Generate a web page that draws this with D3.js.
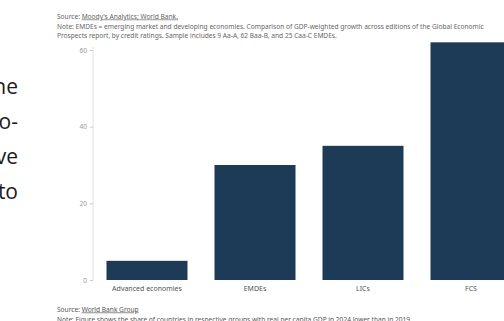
<!DOCTYPE html>
<html>
<head>
<meta charset="utf-8">
<script src="https://cdn.jsdelivr.net/npm/d3@7"></script>
<style>
  body { margin: 0; background: #fff; overflow: hidden; }
  svg { display: block; }
</style>
</head>
<body>
<svg id="chart" width="504" height="321"></svg>
<script>
const categories = ["Advanced economies", "EMDEs", "LICs", "FCS"];
const values = [5, 30, 35, 62];
const yTicks = [0, 20, 40, 60];
const sideWords = ["he", "o-", "ve", "to"];

const svg = d3.select("#chart");
const font = "'Noto Sans', sans-serif";

const x = d3.scaleBand()
  .domain(categories)
  .range([93, 525])
  .paddingInner(0.25)
  .paddingOuter(0.125);

const y = d3.scaleLinear().domain([0, 60]).range([280, 50]);

// top source + note
const header = svg.append("g").attr("font-family", font).attr("font-size", 6.6).attr("fill", "#666");
const src = header.append("text").attr("x", 57).attr("y", 18.5);
src.append("tspan").text("Source: ");
src.append("tspan").attr("text-decoration", "underline").text("Moody's Analytics; World Bank.");
header.append("text").attr("x", 57).attr("y", 28.5)
  .text("Note: EMDEs = emerging market and developing economies. Comparison of GDP-weighted growth across editions of the Global Economic");
header.append("text").attr("x", 57).attr("y", 37.5)
  .text("Prospects report, by credit ratings. Sample includes 9 Aa-A, 62 Baa-B, and 25 Caa-C EMDEs.");

// slide words, cut off by the left edge as in the screenshot
svg.append("g")
  .attr("font-family", "'Open Sans', sans-serif")
  .attr("font-size", 21)
  .attr("fill", "#1a1a1a")
  .attr("text-anchor", "end")
  .selectAll("text")
  .data(sideWords)
  .join("text")
  .attr("x", 18)
  .attr("y", (d, i) => 94 + i * 35)
  .text(d => d);

// y axis
const yAxis = svg.append("g")
  .attr("transform", "translate(93,0)")
  .call(d3.axisLeft(y).tickValues(yTicks).tickSize(3).tickPadding(3));
yAxis.select(".domain").attr("stroke", "#e2e2e2").attr("d", "M0,47V281");
yAxis.selectAll(".tick line").attr("stroke", "#ccc");
yAxis.selectAll(".tick text").attr("fill", "#999").attr("font-size", 6.5).attr("font-family", font);

// bars
svg.append("g")
  .selectAll("rect")
  .data(categories)
  .join("rect")
  .attr("x", d => x(d))
  .attr("width", x.bandwidth())
  .attr("y", (d, i) => y(values[i]))
  .attr("height", (d, i) => y(0) - y(values[i]))
  .attr("fill", "#1d3a57");

// category labels
svg.append("g")
  .attr("font-family", font)
  .attr("font-size", 7)
  .attr("fill", "#555")
  .attr("text-anchor", "middle")
  .selectAll("text")
  .data(categories)
  .join("text")
  .attr("x", d => x(d) + x.bandwidth() / 2)
  .attr("y", 291)
  .text(d => d);

// bottom source + note
const footer = svg.append("g").attr("font-family", font).attr("font-size", 6.6).attr("fill", "#555");
const src2 = footer.append("text").attr("x", 57).attr("y", 311.5);
src2.append("tspan").text("Source: ");
src2.append("tspan").attr("text-decoration", "underline").text("World Bank Group");
footer.append("text").attr("x", 57).attr("y", 322)
  .text("Note: Figure shows the share of countries in respective groups with real per capita GDP in 2024 lower than in 2019.");
</script>
</body>
</html>
